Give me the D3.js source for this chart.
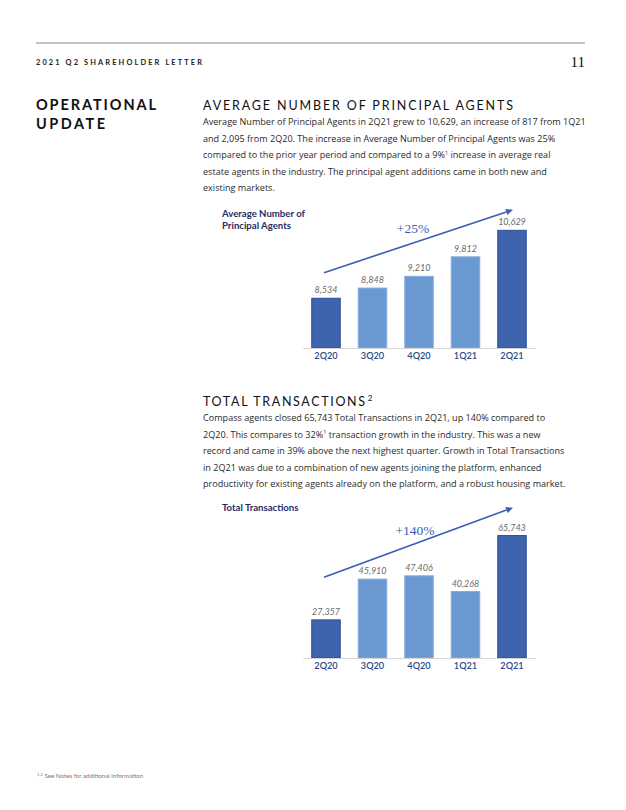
<!DOCTYPE html>
<html><head><meta charset="utf-8">
<script src="https://cdn.jsdelivr.net/npm/d3@7"></script>
<style>
html,body{margin:0;padding:0;background:#fff;}
svg{display:block;}
</style></head>
<body>
<svg id="page" width="626" height="810"></svg>
<script>
// ---- data ----
const categories = ["2Q20","3Q20","4Q20","1Q21","2Q21"];
const agentValues = [8534, 8848, 9210, 9812, 10629];
const transactionValues = [27357, 45910, 47406, 40268, 65743];
const barTone = ["dark","light","light","light","dark"];
const agentGrowthLabel = "+25%";
const transactionGrowthLabel = "+140%";

const section1Body = [
  "Average Number of Principal Agents in 2Q21 grew to 10,629, an increase of 817 from 1Q21",
  "and 2,095 from 2Q20. The increase in Average Number of Principal Agents was 25%",
  ["compared to the prior year period and compared to a 9%", "1", " increase in average real"],
  "estate agents in the industry. The principal agent additions came in both new and",
  "existing markets."
];
const section2Body = [
  "Compass agents closed 65,743 Total Transactions in 2Q21, up 140% compared to",
  ["2Q20. This compares to 32%", "1", " transaction growth in the industry. This was a new"],
  "record and came in 39% above the next highest quarter. Growth in Total Transactions",
  "in 2Q21 was due to a combination of new agents joining the platform, enhanced",
  "productivity for existing agents already on the platform, and a robust housing market."
];

// ---- page ----
const svg = d3.select("#page");
const FONT = "Lato, 'Noto Sans', sans-serif";
const BODYFONT = "'Open Sans', Lato, sans-serif";
const DARK = "#3e64ae", DARK_STROKE = "#2e4f98";
const LIGHT = "#6a99d2", LIGHT_STROKE = "#84acdc";
const NAVY = "#1f2d66";
const ARROW = "#3a5db3";

svg.append("line").attr("x1",36).attr("x2",585).attr("y1",43).attr("y2",43)
  .attr("stroke","#8a8a8a").attr("stroke-width",1.2);
svg.append("text").attr("x",36).attr("y",65).text("2021 Q2 SHAREHOLDER LETTER")
  .attr("font-family",FONT).attr("font-weight",700).attr("font-size",7.4).attr("fill","#222")
  .attr("textLength",166).attr("lengthAdjust","spacing");
svg.append("text").attr("x",585).attr("y",67).attr("text-anchor","end").text("11")
  .attr("font-family","'Liberation Serif', serif").attr("font-size",15).attr("fill","#111");

svg.append("text").attr("x",36).attr("y",110).text("OPERATIONAL")
  .attr("font-family",FONT).attr("font-weight",700).attr("font-size",14.5).attr("fill","#111")
  .attr("textLength",120).attr("lengthAdjust","spacing");
svg.append("text").attr("x",36).attr("y",129).text("UPDATE")
  .attr("font-family",FONT).attr("font-weight",700).attr("font-size",14.5).attr("fill","#111")
  .attr("textLength",69).attr("lengthAdjust","spacing");

function sectionTitle(y, main, sup, len){
  const t = svg.append("text").attr("x",203).attr("y",y)
    .attr("font-family",FONT).attr("font-size",12.5).attr("fill","#111");
  t.append("tspan").text(main).attr("textLength",len).attr("lengthAdjust","spacing");
  if(sup) t.append("tspan").text(sup).attr("font-size",8).attr("dy",-5).attr("dx",1);
}
sectionTitle(110, "AVERAGE NUMBER OF PRINCIPAL AGENTS", null, 310);
sectionTitle(406, "TOTAL TRANSACTIONS", "2", 162);

// body text, scaled so first line spans 203 -> 586
const probe = svg.append("text").attr("font-family",BODYFONT).attr("font-size",10).text(section1Body[0]);
const w10 = probe.node().getComputedTextLength();
probe.remove();
const bodySize = 10 * 383 / w10;

function body(lines, y0){
  lines.forEach((ln,i)=>{
    const t = svg.append("text").attr("x",203).attr("y",y0 + i*16.6)
      .attr("font-family",BODYFONT).attr("font-size",bodySize).attr("fill","#2a2a2a");
    if(Array.isArray(ln)){
      t.append("tspan").text(ln[0]);
      t.append("tspan").text(ln[1]).attr("font-size",bodySize*0.6).attr("dy",-3.5);
      t.append("tspan").text(ln[2]).attr("dy",3.5);
    } else t.text(ln);
  });
}
body(section1Body, 125);
body(section2Body, 421);

// ---- charts ----
const x = d3.scaleBand().domain(categories).range([302.75, 535.25])
  .paddingInner(0.387).paddingOuter(0.1935);

function chart(opts){
  const g = svg.append("g");
  const y = d3.scaleLinear().domain(opts.domain).range(opts.range);
  const base = opts.range[0];
  // title
  opts.title.forEach((s,i)=>{
    g.append("text").attr("x",222).attr("y",opts.titleY + i*11.5).text(s)
      .attr("font-family",FONT).attr("font-weight",700).attr("font-size",9.6).attr("fill",NAVY);
  });
  // bars
  g.selectAll("rect.bar").data(opts.values).join("rect").attr("class","bar")
    .attr("x",(d,i)=>x(categories[i]))
    .attr("width",x.bandwidth())
    .attr("y",d=>y(d))
    .attr("height",d=>base - y(d))
    .attr("fill",(d,i)=>barTone[i]==="dark"?DARK:LIGHT)
    .attr("stroke",(d,i)=>barTone[i]==="dark"?DARK_STROKE:LIGHT_STROKE)
    .attr("stroke-width",1);
  // value labels
  g.selectAll("text.val").data(opts.values).join("text").attr("class","val")
    .attr("x",(d,i)=>x(categories[i]) + x.bandwidth()/2)
    .attr("y",d=>y(d) - 5)
    .attr("text-anchor","middle")
    .attr("font-family",FONT).attr("font-style","italic").attr("font-size",9)
    .attr("fill","#6a6a6a").text(d=>d3.format(",")(d));
  // axis
  const ax = g.append("g").attr("transform",`translate(0,${base})`)
    .call(d3.axisBottom(x).tickSize(0).tickPadding(4.5));
  ax.select(".domain").attr("stroke","#d4d4d4").attr("stroke-width",1.2);
  ax.selectAll("text").attr("font-family",FONT).attr("font-size",9.2)
    .attr("fill","#2a4a8c").attr("font-weight",600);
  // growth arrow
  const x0 = x(categories[0]) + x.bandwidth()/2 - 2;
  const x1 = x(categories[categories.length-1]) + x.bandwidth()/2 + 1;
  const ang = Math.atan2(opts.arrowY1 - opts.arrowY0, x1 - x0);
  const hl = 7, hw = 3.2;
  const bx = x1 - hl*Math.cos(ang), by = opts.arrowY1 - hl*Math.sin(ang);
  g.append("line").attr("x1",x0).attr("y1",opts.arrowY0).attr("x2",bx).attr("y2",by)
    .attr("stroke",ARROW).attr("stroke-width",1.6);
  g.append("path").attr("d",
    `M${x1},${opts.arrowY1} L${bx + hw*Math.sin(ang)},${by - hw*Math.cos(ang)} L${bx - hw*Math.sin(ang)},${by + hw*Math.cos(ang)} Z`)
    .attr("fill",ARROW);
  g.append("text").attr("x",opts.labelX).attr("y",opts.labelY).attr("text-anchor","middle")
    .attr("font-family","'Liberation Serif', serif").attr("font-size",13.5)
    .attr("fill",ARROW).text(opts.label);
}

chart({
  values: agentValues, domain:[7000, 11000], range:[348, 218.3],
  title:["Average Number of","Principal Agents"], titleY:217,
  arrowY0:272.7, arrowY1:209.7, label:agentGrowthLabel, labelX:413, labelY:232.5
});
chart({
  values: transactionValues, domain:[10000, 70000], range:[658, 526.2],
  title:["Total Transactions"], titleY:510.5,
  arrowY0:577.3, arrowY1:507.7, label:transactionGrowthLabel, labelX:415, labelY:534.5
});

// footnote
const fn = svg.append("text").attr("x",37).attr("y",777.5)
  .attr("font-family",FONT).attr("font-size",6.2).attr("fill","#777");
fn.append("tspan").text("1,2").attr("font-size",4.2).attr("dy",-2);
fn.append("tspan").text(" See Notes for additional information").attr("dy",2);
</script>
</body></html>
